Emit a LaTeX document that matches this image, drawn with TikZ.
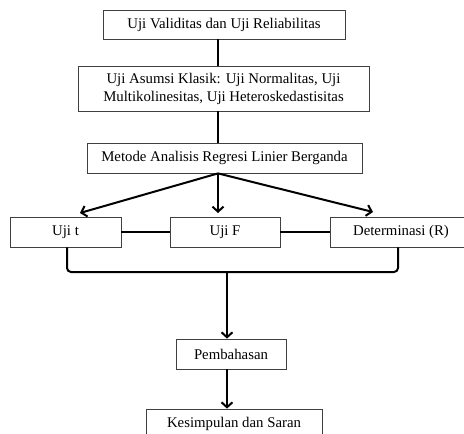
\documentclass[tikz,border=0pt]{standalone}
\usepackage{fontspec}
\setmainfont{Liberation Serif}
\usetikzlibrary{arrows.meta}
\begin{document}
\begin{tikzpicture}[x=1pt,y=-1pt, % pixel units, y pointing down
  box/.style={draw=black!75, line width=0.8pt, inner sep=0pt, align=center,
    font=\fontsize{14.8}{18}\selectfont},
  conn/.style={line width=2pt},
  arr/.style={conn, -{Straight Barb[length=5pt,width=11pt]}}]

  % page area
  \useasboundingbox (0,0) rectangle (464,434);
  \clip (0,0) rectangle (464,434);

  % boxes
  \node[box, minimum width=242pt, minimum height=29pt] (valid) at (224,24.5) {Uji Validitas dan Uji Reliabilitas};
  \node[box, minimum width=291pt, minimum height=45pt] (asumsi) at (223.5,88.5) {Uji Asumsi Klasik: Uji Normalitas, Uji\\Multikolinesitas, Uji Heteroskedastisitas};
  \node[box, minimum width=275pt, minimum height=30pt] (metode) at (224.5,158) {Metode Analisis Regresi Linier Berganda};
  \node[box, minimum width=111pt, minimum height=30pt] (ujit) at (65.5,232) {Uji t};
  \node[box, minimum width=110pt, minimum height=30pt] (ujif) at (225,232) {Uji F};
  \node[box, minimum width=142pt, minimum height=30pt] (det) at (401,232) {Determinasi (R)};
  \node[box, minimum width=110pt, minimum height=30pt] (bahas) at (231,354) {Pembahasan};
  \node[box, minimum width=176pt, minimum height=30pt] (simpul) at (234,424) {Kesimpulan dan Saran};

  % helper points
  \coordinate (spine) at (218,0);
  \coordinate (tipT) at (80,213);
  \coordinate (tipF) at (218,213);
  \coordinate (tipD) at (373,212);
  \coordinate (joinL) at (67,272);
  \coordinate (joinR) at (398,272);
  \coordinate (join) at (227,272);

  % connectors
  \draw[conn] (valid.south -| spine) -- (asumsi.north -| spine);
  \draw[conn] (asumsi.south -| spine) -- (metode.north -| spine);
  \foreach \t in {tipT,tipF,tipD}
    \draw[arr] (metode.south -| spine) -- (\t);
  \draw[conn] (ujit.east) -- (ujif.west);
  \draw[conn] (ujif.east) -- (det.west);
  \draw[conn, rounded corners=4pt] (ujit.south -| joinL) -- (joinL) -- (joinR) -- (det.south -| joinR);
  \draw[arr] (join) -- (bahas.north -| join);
  \draw[arr] (bahas.south -| join) -- (simpul.north -| join);

\end{tikzpicture}
\end{document}
